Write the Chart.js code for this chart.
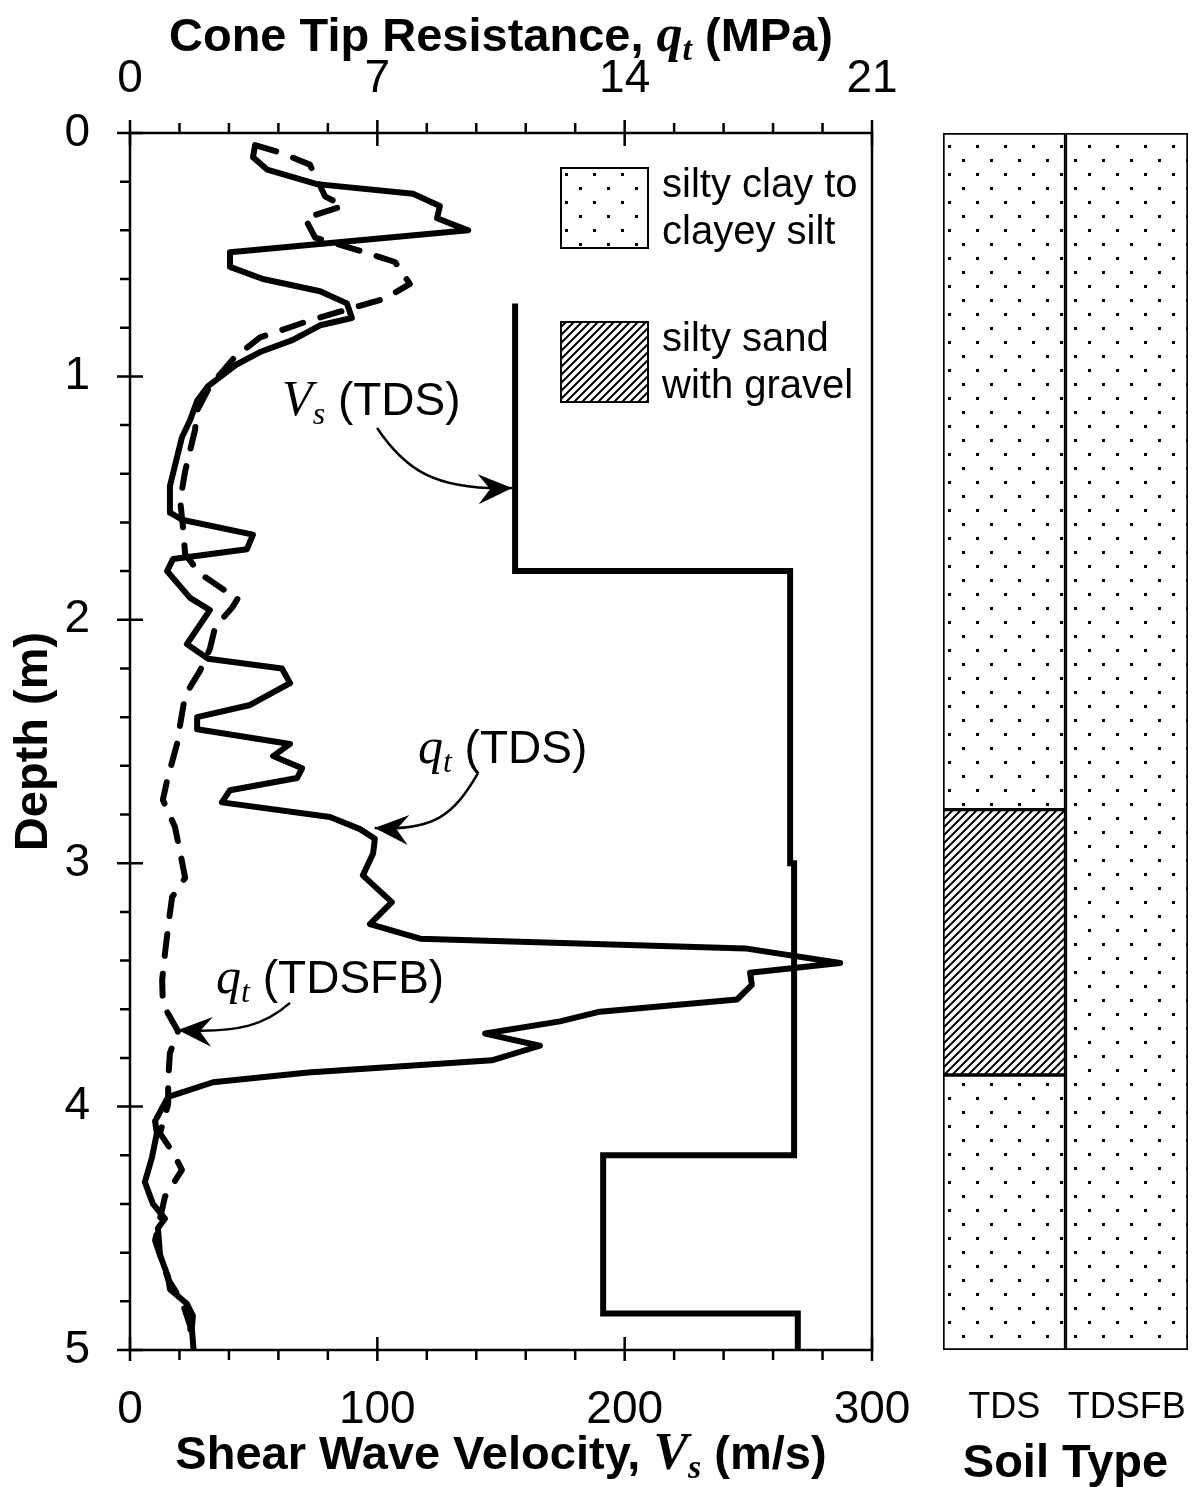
<!DOCTYPE html>
<html>
<head>
<meta charset="utf-8">
<script src="https://cdn.jsdelivr.net/npm/chart.js@4.4.1/dist/chart.umd.min.js"></script>
<style>
  html, body { margin: 0; padding: 0; background: #fff; }
  #wrap { position: relative; width: 1198px; height: 1487px; }
  #profile { position: absolute; left: 0; top: 0; }
  #soil { position: absolute; left: 915px; top: 0; }
</style>
</head>
<body>
<div id="wrap">
  <canvas id="profile" width="915" height="1487"></canvas>
  <canvas id="soil" width="283" height="1487"></canvas>
</div>
<script>
// shear wave velocity layers, TDS (m/s)
var vsTop = [0.70, 1.80, 3.00, 4.20, 4.85];
var vsBottom = [1.80, 3.00, 4.20, 4.85, 5.00];
var vsValue = [155.7, 266.9, 268.5, 191.3, 270.0];

// cone tip resistance, TDS (MPa)
var qtTdsDepth = [0.05,0.10,0.15,0.21,0.25,0.30,0.35,0.40,0.49,0.55,0.60,0.65,0.70,0.76,0.79,0.85,0.90,0.95,1.04,1.10,
  1.18,1.25,1.45,1.56,1.59,1.65,1.71,1.75,1.80,1.91,1.96,2.10,2.16,2.20,2.26,2.35,2.40,2.45,2.51,2.56,
  2.61,2.65,2.70,2.75,2.81,2.86,2.90,2.96,3.05,3.16,3.25,3.31,3.35,3.41,3.45,3.50,3.56,3.61,3.65,3.70,
  3.75,3.81,3.86,3.90,3.96,4.06,4.11,4.21,4.31,4.40,4.46,4.50,4.61,4.70,4.75,4.81,4.86,4.91,5.00];
var qtTdsValue = [3.54,3.48,3.88,5.29,8.01,8.77,8.69,9.57,2.83,2.83,3.76,5.38,6.14,6.28,5.38,4.61,3.68,3.03,2.21,1.90,
  1.70,1.47,1.13,1.13,1.50,3.48,3.31,1.22,1.05,1.70,2.26,1.61,2.21,4.30,4.53,3.40,1.90,1.90,4.53,4.05,
  4.87,4.73,2.83,2.60,5.66,6.51,6.93,6.88,6.59,7.41,6.79,8.21,17.41,20.10,17.55,17.60,17.18,13.30,12.17,10.05,
  11.60,10.24,5.04,2.35,1.08,0.71,0.76,0.62,0.42,0.65,0.99,0.79,0.85,1.08,1.13,1.61,1.78,1.75,1.80];

// cone tip resistance, TDSFB (MPa)
var qtFbDepth = [0.05,0.08,0.13,0.26,0.30,0.35,0.43,0.49,0.53,0.62,0.68,0.77,0.84,0.92,1.04,1.14,1.22,1.39,1.51,1.62,
  1.73,1.81,1.88,1.91,1.95,2.03,2.12,2.21,2.31,2.43,2.51,2.66,2.74,2.85,2.97,3.06,3.14,3.26,3.37,3.48,
  3.58,3.69,3.78,3.89,3.99,4.11,4.19,4.26,4.37,4.55,4.71,4.80,4.90,4.98];
var qtFbValue = [3.54,4.25,5.09,5.52,6.03,4.95,5.24,6.65,7.50,7.92,7.22,5.09,3.68,2.97,2.26,1.90,1.84,1.56,1.42,1.50,
  1.56,1.98,2.69,3.06,2.89,2.41,2.26,1.98,1.56,1.42,1.33,1.05,0.93,1.27,1.44,1.56,1.19,1.08,0.99,0.91,
  0.93,1.36,1.13,1.08,1.08,0.85,1.22,1.47,0.99,0.71,1.08,1.47,1.70,1.75];

// axis tick labels
var vsTicks = [0, 100, 200, 300];
var qtTicks = [0, 7, 14, 21];
var depthTicks = [0, 1, 2, 3, 4, 5];

// soil profile columns
var soilColumns = ['TDS', 'TDSFB'];
var soilLayerColumn = ['TDS', 'TDS', 'TDS', 'TDSFB'];
var soilLayerTop = [0, 2.78, 3.87, 0];
var soilLayerBottom = [2.78, 3.87, 5.0, 5.0];
var soilLayerType = ['clay', 'sand', 'clay', 'clay'];

var SANS = "'Liberation Sans', Arial, sans-serif";
var SERIF = "'Liberation Serif', 'Times New Roman', serif";

function dotPattern(ctx) {
  var c = document.createElement('canvas');
  c.width = 28; c.height = 28;
  var g = c.getContext('2d');
  g.fillStyle = '#fff'; g.fillRect(0, 0, 28, 28);
  g.fillStyle = '#000';
  g.fillRect(5, 5, 3, 3);
  g.fillRect(19, 19, 3, 3);
  return ctx.createPattern(c, 'repeat');
}

function hatchPattern(ctx) {
  var s = 8;
  var c = document.createElement('canvas');
  c.width = s; c.height = s;
  var g = c.getContext('2d');
  g.fillStyle = '#fff'; g.fillRect(0, 0, s, s);
  g.strokeStyle = '#000'; g.lineWidth = 2;
  g.beginPath();
  g.moveTo(-1, s + 1); g.lineTo(s + 1, -1);
  g.moveTo(-2, 2); g.lineTo(2, -2);
  g.moveTo(s - 2, s + 2); g.lineTo(s + 2, s - 2);
  g.stroke();
  return ctx.createPattern(c, 'repeat');
}

function richText(ctx, parts, x, y, align) {
  var total = 0;
  parts.forEach(function (p) { ctx.font = p.font; p.w = ctx.measureText(p.text).width; total += p.w; });
  var cx = align === 'center' ? x - total / 2 : x;
  ctx.textAlign = 'left';
  ctx.textBaseline = 'alphabetic';
  parts.forEach(function (p) { ctx.font = p.font; ctx.fillText(p.text, cx, y + (p.dy || 0)); cx += p.w; });
}

function arrow(ctx, p0, c1, c2, p3) {
  ctx.save();
  ctx.lineWidth = 2.5;
  ctx.strokeStyle = '#000';
  ctx.beginPath();
  ctx.moveTo(p0[0], p0[1]);
  ctx.bezierCurveTo(c1[0], c1[1], c2[0], c2[1], p3[0], p3[1]);
  ctx.stroke();
  var a = Math.atan2(p3[1] - c2[1], p3[0] - c2[0]);
  var L = 34, W = 15, N = 22;
  ctx.translate(p3[0], p3[1]);
  ctx.rotate(a);
  ctx.fillStyle = '#000';
  ctx.beginPath();
  ctx.moveTo(0, 0);
  ctx.lineTo(-L, -W);
  ctx.lineTo(-N, 0);
  ctx.lineTo(-L, W);
  ctx.closePath();
  ctx.fill();
  ctx.restore();
}

function stepPoints() {
  var pts = [];
  for (var i = 0; i < vsValue.length; i++) {
    pts.push({ x: vsValue[i], y: vsTop[i] });
    pts.push({ x: vsValue[i], y: vsBottom[i] });
  }
  return pts;
}

function pairPoints(depths, values) {
  return depths.map(function (d, i) { return { x: values[i], y: d }; });
}

// keep tick labels from pushing the plot area around
function noLabelPadding(s) {
  s.paddingLeft = 0; s.paddingRight = 0; s.paddingTop = 0; s.paddingBottom = 0;
}

var profileDecor = {
  id: 'profileDecor',
  afterDraw: function (chart) {
    var ctx = chart.ctx;
    var a = chart.chartArea;
    var xs = chart.scales.x, x2 = chart.scales.x2, ys = chart.scales.y;
    ctx.save();
    ctx.strokeStyle = '#000';
    ctx.lineWidth = 2.5;
    ctx.strokeRect(a.left, a.top, a.right - a.left, a.bottom - a.top);

    ctx.beginPath();
    var v, p, major;
    for (v = 0; v <= 300.001; v += 20) {
      p = xs.getPixelForValue(v);
      major = vsTicks.indexOf(Math.round(v)) >= 0;
      ctx.moveTo(p, a.bottom + (major ? 11 : 10));
      ctx.lineTo(p, major ? a.bottom - 13 : a.bottom);
    }
    for (v = 0; v <= 21.001; v += 1.4) {
      p = x2.getPixelForValue(v);
      major = qtTicks.indexOf(Math.round(v * 10) / 10) >= 0;
      ctx.moveTo(p, a.top - (major ? 13 : 10));
      ctx.lineTo(p, major ? a.top + 13 : a.top);
    }
    for (v = 0; v <= 5.001; v += 0.2) {
      p = ys.getPixelForValue(v);
      major = depthTicks.indexOf(Math.round(v * 10) / 10) >= 0;
      ctx.moveTo(a.left - (major ? 13 : 10), p);
      ctx.lineTo(major ? a.left + 13 : a.left, p);
    }
    ctx.stroke();

    ctx.fillStyle = '#000';
    var cx = (a.left + a.right) / 2;
    richText(ctx, [
      { text: 'Shear Wave Velocity, ', font: 'bold 47px ' + SANS },
      { text: 'V', font: 'italic bold 52px ' + SERIF },
      { text: 's', font: 'italic bold 34px ' + SERIF, dy: 9 },
      { text: ' (m/s)', font: 'bold 47px ' + SANS }
    ], cx, 1469, 'center');
    richText(ctx, [
      { text: 'Cone Tip Resistance, ', font: 'bold 47px ' + SANS },
      { text: 'q', font: 'italic bold 52px ' + SERIF },
      { text: 't', font: 'italic bold 34px ' + SERIF, dy: 9 },
      { text: ' (MPa)', font: 'bold 47px ' + SANS }
    ], cx, 51, 'center');

    ctx.save();
    ctx.translate(34, (a.top + a.bottom) / 2);
    ctx.rotate(-Math.PI / 2);
    ctx.font = 'bold 47px ' + SANS;
    ctx.textAlign = 'center';
    ctx.textBaseline = 'middle';
    ctx.fillText('Depth (m)', 0, 0);
    ctx.restore();

    // curve labels, placed in data units
    function P(vs, d) { return [xs.getPixelForValue(vs), ys.getPixelForValue(d)]; }
    var t1 = P(61.5, 1.16);
    richText(ctx, [
      { text: 'V', font: 'italic 50px ' + SERIF },
      { text: 's', font: 'italic 32px ' + SERIF, dy: 9 },
      { text: ' (TDS)', font: '46px ' + SANS }
    ], t1[0], t1[1], 'left');
    arrow(ctx, P(99.9, 1.212), P(111, 1.38), P(123, 1.47), P(154.5, 1.459));

    var t2 = P(116.4, 2.59);
    richText(ctx, [
      { text: 'q', font: 'italic 50px ' + SERIF },
      { text: 't', font: 'italic 32px ' + SERIF, dy: 9 },
      { text: ' (TDS)', font: '46px ' + SANS }
    ], t2[0], t2[1], 'left');
    arrow(ctx, P(140.7, 2.63), P(131, 2.80), P(123, 2.87), P(98.9, 2.855));

    var t3 = P(34.8, 3.535);
    richText(ctx, [
      { text: 'q', font: 'italic 50px ' + SERIF },
      { text: 't', font: 'italic 32px ' + SERIF, dy: 9 },
      { text: ' (TDSFB)', font: '46px ' + SANS }
    ], t3[0], t3[1], 'left');
    arrow(ctx, P(64.7, 3.574), P(55, 3.66), P(45, 3.70), P(19.4, 3.685));

    // legend for soil type patterns
    var boxes = [
      { y: 168, fill: dotPattern(ctx), lines: ['silty clay to', 'clayey silt'] },
      { y: 322, fill: hatchPattern(ctx), lines: ['silty sand', 'with gravel'] }
    ];
    boxes.forEach(function (b) {
      ctx.fillStyle = b.fill;
      ctx.fillRect(561, b.y, 87, 80);
      ctx.lineWidth = 2;
      ctx.strokeStyle = '#000';
      ctx.strokeRect(561, b.y, 87, 80);
      ctx.fillStyle = '#000';
      ctx.font = '40px ' + SANS;
      ctx.textAlign = 'left';
      ctx.textBaseline = 'middle';
      ctx.fillText(b.lines[0], 662, b.y + 18);
      ctx.fillText(b.lines[1], 662, b.y + 65);
    });
    ctx.restore();
  }
};

var tickFont = { family: SANS, size: 46 };

new Chart(document.getElementById('profile'), {
  type: 'scatter',
  data: {
    datasets: [
      {
        label: 'Vs (TDS)',
        data: stepPoints(),
        xAxisID: 'x',
        showLine: true,
        borderColor: '#000',
        borderWidth: 6,
        pointRadius: 0,
        borderJoinStyle: 'miter'
      },
      {
        label: 'qt (TDS)',
        data: pairPoints(qtTdsDepth, qtTdsValue),
        xAxisID: 'x2',
        showLine: true,
        borderColor: '#000',
        borderWidth: 6,
        pointRadius: 0,
        borderJoinStyle: 'round'
      },
      {
        label: 'qt (TDSFB)',
        data: pairPoints(qtFbDepth, qtFbValue),
        xAxisID: 'x2',
        showLine: true,
        borderColor: '#000',
        borderWidth: 6,
        borderDash: [22, 18],
        borderCapStyle: 'round',
        borderJoinStyle: 'round',
        pointRadius: 0
      }
    ]
  },
  options: {
    responsive: false,
    animation: false,
    layout: { padding: { left: 0, right: 43, top: 0, bottom: 0 } },
    plugins: { legend: { display: false }, tooltip: { enabled: false } },
    scales: {
      x: {
        type: 'linear', position: 'bottom', min: 0, max: 300,
        afterBuildTicks: function (s) { s.ticks = vsTicks.map(function (v) { return { value: v }; }); },
        afterFit: function (s) { s.height = 137; noLabelPadding(s); },
        grid: { display: false, drawTicks: false },
        border: { display: false },
        ticks: { font: tickFont, color: '#000', padding: 33, maxRotation: 0 }
      },
      x2: {
        type: 'linear', position: 'top', min: 0, max: 21,
        afterBuildTicks: function (s) { s.ticks = qtTicks.map(function (v) { return { value: v }; }); },
        afterFit: function (s) { s.height = 133; noLabelPadding(s); },
        grid: { display: false, drawTicks: false },
        border: { display: false },
        ticks: { font: tickFont, color: '#000', padding: 26, maxRotation: 0 }
      },
      y: {
        type: 'linear', position: 'left', min: 0, max: 5, reverse: true,
        afterBuildTicks: function (s) { s.ticks = depthTicks.map(function (v) { return { value: v }; }); },
        afterFit: function (s) { s.width = 130; noLabelPadding(s); },
        grid: { display: false, drawTicks: false },
        border: { display: false },
        ticks: { font: tickFont, color: '#000', padding: 40 }
      }
    }
  },
  plugins: [profileDecor]
});

// soil type column chart
var soilCtx = document.getElementById('soil').getContext('2d');
var soilFill = { clay: dotPattern(soilCtx), sand: hatchPattern(soilCtx) };
var soilSets = soilLayerType.map(function (t, i) {
  return {
    label: t,
    data: soilColumns.map(function (c) {
      return c === soilLayerColumn[i] ? [soilLayerTop[i], soilLayerBottom[i]] : null;
    }),
    backgroundColor: soilFill[t],
    borderColor: '#000',
    borderWidth: 2,
    borderSkipped: false,
    grouped: false,
    categoryPercentage: 1,
    barPercentage: 1
  };
});

new Chart(soilCtx, {
  type: 'bar',
  data: { labels: soilColumns, datasets: soilSets },
  options: {
    responsive: false,
    animation: false,
    layout: { padding: { left: 28, right: 10, top: 133, bottom: 0 } },
    plugins: { legend: { display: false }, tooltip: { enabled: false } },
    scales: {
      x: {
        afterFit: function (s) { s.height = 137; noLabelPadding(s); },
        grid: { display: false, drawTicks: false },
        border: { display: false },
        ticks: { font: { family: SANS, size: 36 }, color: '#000', padding: 36, maxRotation: 0, minRotation: 0, autoSkip: false }
      },
      y: { display: false, min: 0, max: 5, reverse: true }
    }
  },
  plugins: [{
    id: 'soilTitle',
    afterDraw: function (chart) {
      var ctx = chart.ctx;
      var a = chart.chartArea;
      ctx.save();
      ctx.fillStyle = '#000';
      ctx.font = 'bold 47px ' + SANS;
      ctx.textAlign = 'center';
      ctx.textBaseline = 'alphabetic';
      ctx.fillText('Soil Type', (a.left + a.right) / 2, 1477);
      ctx.restore();
    }
  }]
});
</script>
</body>
</html>
